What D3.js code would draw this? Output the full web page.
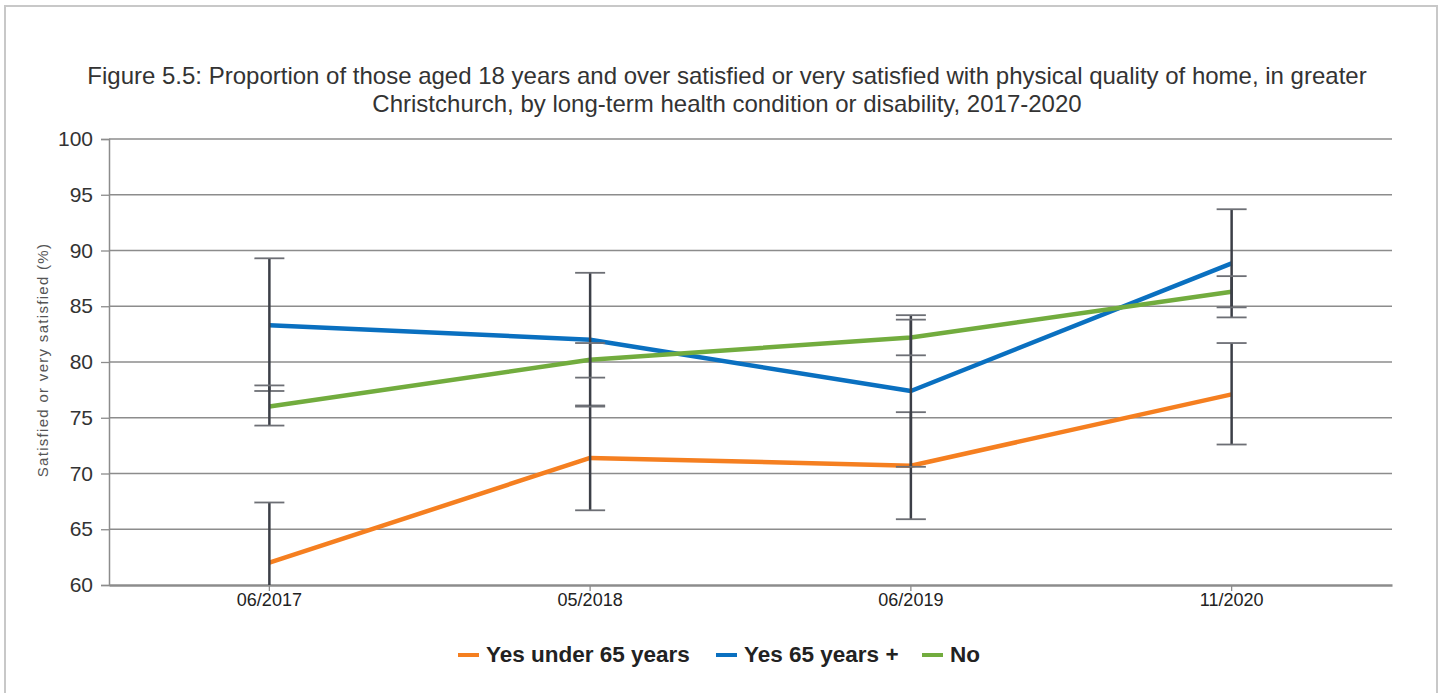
<!DOCTYPE html>
<html>
<head>
<meta charset="utf-8">
<script src="https://cdn.jsdelivr.net/npm/d3@7"></script>
<style>
  body { margin: 0; background: #fff; }
  svg { display: block; font-family: "Liberation Sans", Arial, sans-serif; }
</style>
</head>
<body>
<div id="chart"></div>
<script>
// CATEGORIES & TICKS
var periods = ['06/2017', '05/2018', '06/2019', '11/2020'];
var yTicks = [60, 65, 70, 75, 80, 85, 90, 95, 100];

// SERIES VALUES
var under65 = [62.0, 71.4, 70.7, 77.1];
var under65Low = [56.6, 66.7, 65.9, 72.6];
var under65High = [67.4, 76.1, 75.5, 81.7];

var over65 = [83.3, 82.0, 77.4, 88.85];
var over65Low = [77.4, 76.0, 70.6, 84.0];
var over65High = [89.3, 88.0, 84.2, 93.7];

var noCond = [76.0, 80.2, 82.2, 86.3];
var noCondLow = [74.3, 78.6, 80.6, 84.9];
var noCondHigh = [77.9, 81.7, 83.8, 87.7];

var seriesNames = ['Yes under 65 years', 'Yes 65 years +', 'No'];

// SETTINGS
var settings = {
   width: 1444, height: 693,
   margin: { left: 109, right: 52, top: 139, bottom: 108 },
   colors: ['#f57f20', '#0a70c0', '#72ac3e'],
   grid: '#8c8c8c',
   bar: '#3c3f47'
};

var innerW = settings.width - settings.margin.left - settings.margin.right;
var innerH = settings.height - settings.margin.top - settings.margin.bottom;

var svg = d3.select('#chart').append('svg')
   .attr('width', settings.width)
   .attr('height', settings.height);

// FRAME
svg.append('rect')
   .attr('x', 5).attr('y', 6)
   .attr('width', 1432).attr('height', 700)
   .attr('fill', 'none')
   .attr('stroke', '#c8c8c8')
   .attr('stroke-width', 2);

// TITLE
var title = svg.append('text')
   .attr('text-anchor', 'middle')
   .attr('fill', '#333')
   .style('font-size', '24px');
title.append('tspan').attr('x', 727).attr('y', 84)
   .text('Figure 5.5: Proportion of those aged 18 years and over satisfied or very satisfied with physical quality of home, in greater');
title.append('tspan').attr('x', 727).attr('y', 112)
   .text('Christchurch, by long-term health condition or disability, 2017-2020');

var g = svg.append('g')
   .attr('transform', 'translate(' + settings.margin.left + ',' + settings.margin.top + ')');

// SCALES
var xScale = d3.scaleBand().domain(periods).range([0, innerW]);
var xPos = function (i) { return xScale(periods[i]) + xScale.bandwidth() / 2; };
var yScale = d3.scaleLinear().domain([60, 100]).range([innerH, 0]);

// GRIDLINES
g.selectAll('.grid')
   .data(yTicks.filter(function (d) { return d > 60; }))
   .enter().append('line')
      .attr('x1', 0).attr('x2', innerW)
      .attr('y1', function (d) { return yScale(d); })
      .attr('y2', function (d) { return yScale(d); })
      .attr('stroke', settings.grid)
      .attr('stroke-width', 1.3);

// Y AXIS
var yAxis = g.append('g')
   .call(d3.axisLeft(yScale).tickValues(yTicks).tickSize(8).tickPadding(8));
yAxis.select('.domain').attr('stroke', settings.grid).attr('stroke-width', 1.5);
yAxis.selectAll('.tick line').attr('stroke', settings.grid).attr('stroke-width', 1.3);
yAxis.selectAll('.tick text')
   .attr('fill', '#333')
   .style('font-size', '21px')
   .style('font-family', '"Liberation Sans", Arial, sans-serif');

// X AXIS
var xAxis = g.append('g')
   .attr('transform', 'translate(0,' + innerH + ')')
   .call(d3.axisBottom(xScale).tickSize(6).tickPadding(2).tickSizeOuter(0));
xAxis.select('.domain').attr('stroke', settings.grid).attr('stroke-width', 2.5);
xAxis.selectAll('.tick line').attr('stroke', settings.grid).attr('stroke-width', 1.3);
xAxis.selectAll('.tick text')
   .attr('fill', '#222')
   .style('font-size', '18px')
   .style('font-family', '"Liberation Sans", Arial, sans-serif');

// Y AXIS TITLE
svg.append('text')
   .attr('transform', 'translate(48,' + (settings.margin.top + innerH / 2 - 2) + ') rotate(-90)')
   .attr('text-anchor', 'middle')
   .attr('fill', '#555')
   .style('font-size', '15px')
   .style('letter-spacing', '1.3px')
   .text('Satisfied or very satisfied (%)');

// CLIP TO PLOT AREA
svg.append('clipPath').attr('id', 'plot')
   .append('rect').attr('x', 0).attr('y', -40).attr('width', innerW).attr('height', innerH + 40);

var plot = g.append('g').attr('clip-path', 'url(#plot)');

var series = [
   { name: seriesNames[0], values: under65, low: under65Low, high: under65High, color: settings.colors[0] },
   { name: seriesNames[1], values: over65, low: over65Low, high: over65High, color: settings.colors[1] },
   { name: seriesNames[2], values: noCond, low: noCondLow, high: noCondHigh, color: settings.colors[2] }
];

// LINES
var pathify = d3.line()
   .x(function (d, i) { return xPos(i); })
   .y(function (d) { return yScale(d); });

series.forEach(function (s) {
   plot.append('path')
      .attr('d', pathify(s.values))
      .attr('fill', 'none')
      .attr('stroke', s.color)
      .attr('stroke-width', 4.5)
      .attr('stroke-linejoin', 'round');
});

// ERROR BARS
series.forEach(function (s) {
   s.values.forEach(function (v, i) {
      var x = xPos(i);
      var lo = Math.max(s.low[i], 60);
      plot.append('line')
         .attr('x1', x).attr('x2', x)
         .attr('y1', yScale(s.high[i])).attr('y2', yScale(lo))
         .attr('stroke', settings.bar).attr('stroke-width', 2.5);
      [s.low[i], s.high[i]].forEach(function (c) {
         if (c < 60) return;
         plot.append('line')
            .attr('x1', x - 15).attr('x2', x + 15)
            .attr('y1', yScale(c)).attr('y2', yScale(c))
            .attr('stroke', '#6d6f75').attr('stroke-width', 1.8);
      });
   });
});

// LEGEND
var legendX = [458, 716, 922];
var legend = svg.append('g');
series.forEach(function (s, i) {
   legend.append('line')
      .attr('x1', legendX[i]).attr('x2', legendX[i] + 21)
      .attr('y1', 655).attr('y2', 655)
      .attr('stroke', s.color).attr('stroke-width', 4);
   legend.append('text')
      .attr('x', legendX[i] + 28).attr('y', 662)
      .attr('fill', '#222')
      .style('font-size', '22.5px')
      .style('font-weight', 'bold')
      .text(s.name);
});
</script>
</body>
</html>
